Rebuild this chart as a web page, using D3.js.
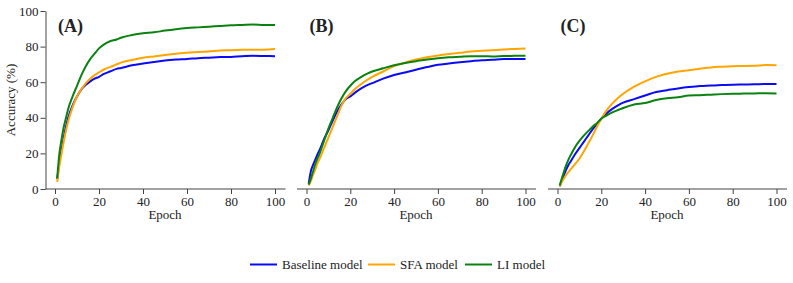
<!DOCTYPE html>
<html>
<head>
<meta charset="utf-8">
<script src="https://cdn.jsdelivr.net/npm/d3@7"></script>
<style>
  body { margin: 0; background: #fff; }
  svg text { font-family: "Times New Roman", "Liberation Serif", serif !important; fill: #222; }
  .axis path, .axis line { stroke: #444; }
</style>
</head>
<body>
<svg id="chart"></svg>
<script>
const epochs = [1, 2, 3, 4, 5, 6, 8, 10, 12, 14, 16, 18, 20, 22, 25, 28, 30, 35, 40, 45, 50, 55, 60, 65, 70, 75, 80, 85, 90, 95, 100];

const seriesNames = ["Baseline model", "SFA model", "LI model"];
const seriesColors = ["#0a0af5", "#ffa500", "#0a8210"];
const panelLabels = ["(A)", "(B)", "(C)"];
const xTicks = [0, 20, 40, 60, 80, 100];
const yTicks = [0, 20, 40, 60, 80, 100];

// panel A
const baselineA = [5.5, 15, 22, 29, 35, 40, 47, 52, 56, 58.5, 60.5, 62, 63, 64.5, 66, 67.5, 68, 69.5, 70.5, 71.4, 72.2, 72.7, 73, 73.5, 73.8, 74.1, 74.2, 74.6, 74.8, 74.7, 74.6];
const sfaA = [4, 13, 20, 27, 33, 38, 46, 52, 56, 59.5, 62, 64, 65.5, 67, 68.5, 70, 71, 72.5, 73.7, 74.5, 75.3, 76, 76.6, 76.9, 77.3, 77.8, 78, 78.2, 78.3, 78.3, 78.6];
const liA = [6, 20, 28, 35, 40, 45, 52, 58, 64, 69, 73, 76, 79, 81, 83, 84, 85, 86.5, 87.5, 88, 89, 89.8, 90.4, 90.8, 91.2, 91.6, 92, 92.2, 92.4, 92.1, 92.1];

// panel B
const baselineB = [3, 10, 13.5, 16.5, 19.5, 22, 28, 33, 38.5, 43.5, 47.5, 50.5, 52, 54, 56.5, 58.5, 59.5, 62, 64, 65.5, 67, 68.5, 69.8, 70.5, 71.2, 71.8, 72.3, 72.6, 73, 73, 73];
const sfaB = [2, 4.5, 8, 11, 14.5, 17, 23, 29, 35, 41, 47, 51, 53.5, 56, 59, 61.5, 63, 66, 69, 71, 72.7, 74, 75, 75.8, 76.5, 77.2, 77.6, 78, 78.4, 78.7, 79];
const liB = [2.5, 6, 10, 14, 17, 20, 27, 34, 40, 46, 51, 55, 58, 60.5, 63, 65, 66, 67.8, 69.5, 70.8, 71.8, 72.8, 73.5, 74, 74.3, 74.6, 74.6, 74.5, 74.7, 74.8, 74.9];

// panel C
const baselineC = [1.5, 5, 8, 11, 13.5, 15.5, 19.5, 23, 26.5, 30, 33.5, 36.5, 39.5, 42, 45, 47.3, 48.5, 50.5, 52.5, 54.5, 55.5, 56.5, 57.3, 57.8, 58.2, 58.4, 58.6, 58.7, 58.8, 59, 59];
const sfaC = [1.5, 4, 6, 8, 9.5, 11, 14, 17, 21, 25.5, 30, 35, 39.5, 43.5, 48, 51.5, 53.5, 57.5, 60.5, 63, 64.7, 66, 66.7, 67.5, 68.3, 68.7, 69, 69.1, 69.3, 69.6, 69.5];
const liC = [2, 6, 10, 13.5, 16.5, 19, 23.5, 27, 30, 32.5, 35, 37, 39.5, 41, 43, 44.5, 45.5, 47.5, 48.3, 50, 51, 51.5, 52.5, 52.7, 53, 53.3, 53.5, 53.6, 53.7, 53.8, 53.7];

const panels = [
    [baselineA, sfaA, liA],
    [baselineB, sfaB, liB],
    [baselineC, sfaC, liC]
];

const width = 793, height = 283;
const fontFam = '"Times New Roman", "Liberation Serif", serif';
const svg = d3.select("#chart").attr("width", width).attr("height", height);

// x position of epoch 0 and 100 in each panel
const panelX = [[55, 275], [306.5, 525.5], [557.5, 776.5]];
const yScale = d3.scaleLinear().domain([0, 100]).range([189, 11]);

panels.forEach((panel, i) => {
    let x0 = panelX[i][0], x1 = panelX[i][1];
    let xScale = d3.scaleLinear().domain([0, 100]).range([x0, x1]);
    let g = svg.append("g");

    // x axis
    let xAxisG = g.append("g")
        .attr("class", "axis")
        .attr("transform", `translate(0,${yScale(0)})`)
        .call(d3.axisBottom(xScale).tickValues(xTicks).tickSize(5).tickSizeOuter(0));
    xAxisG.attr("font-family", fontFam);
    xAxisG.select(".domain").remove();
    xAxisG.append("line")
        .attr("x1", x0 - 9.5).attr("x2", x1 + 10.5)
        .attr("stroke", "#444");
    xAxisG.selectAll(".tick text")
        .attr("y", 8)
        .style("font-family", fontFam)
        .style("font-size", "13px")
        .style("fill", "#222");

    g.append("text")
        .attr("x", (x0 + x1) / 2)
        .attr("y", 219)
        .attr("text-anchor", "middle")
        .style("font-family", fontFam)
        .style("font-size", "13px")
        .text("Epoch");

    if (i === 0) {
        let yAxisG = g.append("g")
            .attr("class", "axis")
            .attr("transform", `translate(${x0 - 9.5},0)`)
            .call(d3.axisLeft(yScale).tickValues(yTicks).tickSize(5).tickSizeOuter(0));
        yAxisG.attr("font-family", fontFam);
        yAxisG.selectAll(".tick text")
            .attr("x", -7)
            .style("font-family", fontFam)
            .style("font-size", "13px")
            .style("fill", "#222");

        g.append("text")
            .attr("transform", "rotate(-90)")
            .attr("x", -yScale(50))
            .attr("y", 15)
            .attr("text-anchor", "middle")
            .style("font-family", fontFam)
            .style("font-size", "13px")
            .text("Accuracy (%)");
    }

    g.append("text")
        .attr("x", x0 + 3)
        .attr("y", 32)
        .style("font-family", fontFam)
        .style("font-size", "18px")
        .style("font-weight", "bold")
        .text(panelLabels[i]);

    let line = d3.line()
        .x((d, j) => xScale(epochs[j]))
        .y(d => yScale(d))
        .curve(d3.curveMonotoneX);

    // draw in order blue, orange, green so green sits on top
    panel.forEach((values, k) => {
        g.append("path")
            .datum(values)
            .attr("fill", "none")
            .attr("stroke", seriesColors[k])
            .attr("stroke-width", 2)
            .attr("d", line);
    });
});

// legend
const legendX = [250, 368, 465];
const legend = svg.append("g");
seriesNames.forEach((name, k) => {
    legend.append("line")
        .attr("x1", legendX[k]).attr("x2", legendX[k] + 27)
        .attr("y1", 264.5).attr("y2", 264.5)
        .attr("stroke", seriesColors[k])
        .attr("stroke-width", 2);
    legend.append("text")
        .attr("x", legendX[k] + 32)
        .attr("y", 269)
        .style("font-family", fontFam)
        .style("font-size", "13px")
        .text(name);
});
</script>
</body>
</html>
